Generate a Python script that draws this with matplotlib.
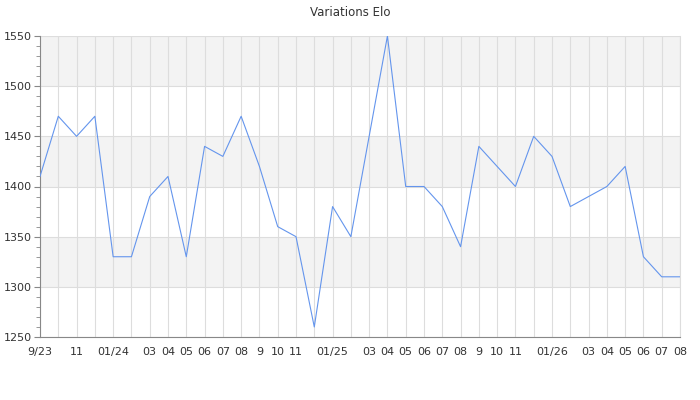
import matplotlib
matplotlib.use('Agg')
import matplotlib.pyplot as plt
from matplotlib.ticker import MultipleLocator

# --- data: monthly Elo, Sep 2023 .. Aug 2026 ---
elo = [1410, 1470, 1450, 1470, 1330, 1330, 1390, 1410, 1330, 1440,
       1430, 1470, 1420, 1360, 1350, 1260, 1380, 1350, 1450, 1550,
       1400, 1400, 1380, 1340, 1440, 1420, 1400, 1450, 1430, 1380,
       1390, 1400, 1420, 1330, 1310, 1310]
month_labels = ['9/23', '', '11', '', '01/24', '', '03', '04', '05', '06',
                '07', '08', '9', '10', '11', '', '01/25', '', '03', '04',
                '05', '06', '07', '08', '9', '10', '11', '', '01/26', '',
                '03', '04', '05', '06', '07', '08']
title = "Variations Elo"

text_col = '#333333'
fig = plt.figure(figsize=(7, 4), dpi=100)
ax = fig.add_axes([40 / 700, 63 / 400, 640 / 700, 301 / 400])

x = list(range(len(elo)))
ax.set_xlim(0, len(elo) - 1)
ax.set_ylim(1250, 1550)

# alternating bands
for lo in range(1300, 1550, 100):
    ax.axhspan(lo, lo + 50, color='#f3f3f3', zorder=0, lw=0)

ax.set_yticks(range(1250, 1551, 50))
ax.yaxis.set_minor_locator(MultipleLocator(10))
ax.set_xticks(x)
ax.set_xticklabels(month_labels)
ax.grid(True, which='major', color='#dddddd', lw=0.8, zorder=1)

ax.plot(x, elo, color='#6495ed', lw=0.8, zorder=3)

ax.spines['top'].set_visible(False)
ax.spines['right'].set_color('#dddddd')
ax.spines['left'].set_color('#888888')
ax.spines['bottom'].set_color('#888888')

ax.tick_params(axis='y', which='major', length=4, color='#888888',
               labelsize=8, labelcolor=text_col, pad=2)
ax.tick_params(axis='y', which='minor', length=3, color='#888888')
ax.tick_params(axis='x', length=0, labelsize=8, labelcolor=text_col, pad=7)

fig.suptitle(title, y=0.985, fontsize=8.5, color=text_col)

plt.savefig('out.png', dpi=100)
